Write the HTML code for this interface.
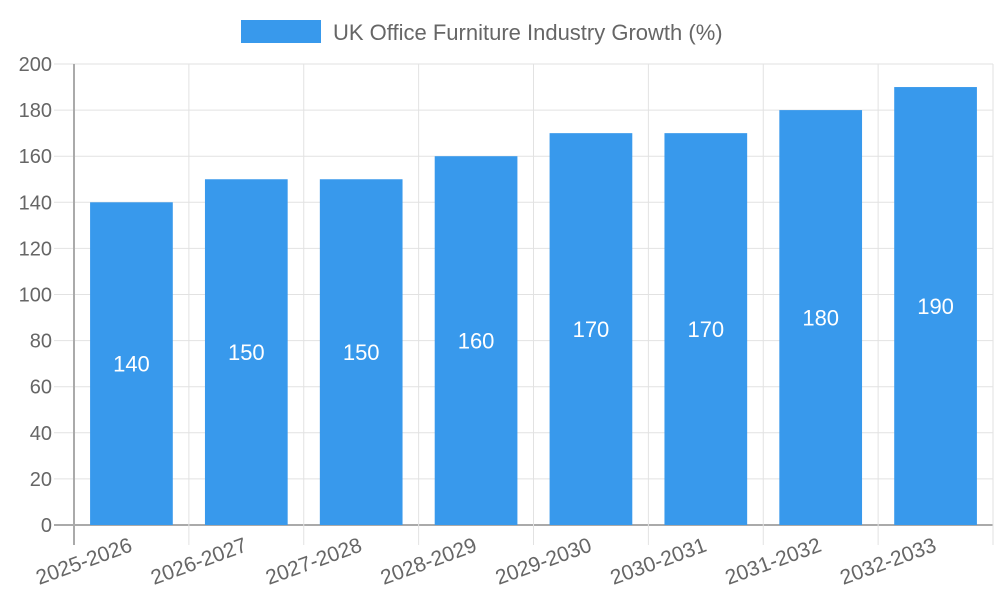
<!DOCTYPE html>
<html><head><meta charset="utf-8"><style>body{margin:0;background:#fff}svg{font-family:"Liberation Sans",sans-serif}</style></head>
<body>
<svg id="c" width="1000" height="600">
<g>
<rect x="241" y="20" width="80" height="23" fill="#3899ec"/>
<text x="333" y="40" font-size="22" fill="#666">UK Office Furniture Industry Growth (%)</text>
</g>
<g id="grid"></g><g id="bars"></g>
</svg>
<script>
const categories=["2025-2026","2026-2027","2027-2028","2028-2029","2029-2030","2030-2031","2031-2032","2032-2033"];
const values=[140,150,150,160,170,170,180,190];
const yTicks=[0,20,40,60,80,100,120,140,160,180,200];
const L=74,R=993,T=64,B=525,yMax=200;
const y=v=>B-(v/yMax)*(B-T);
const cw=(R-L)/categories.length;
const x=i=>L+cw*i;
const NS="http://www.w3.org/2000/svg";
function mk(tag,attrs,parent,text){const e=document.createElementNS(NS,tag);for(const k in attrs)e.setAttribute(k,attrs[k]);if(text!==undefined)e.textContent=text;parent.appendChild(e);return e;}
const g=document.getElementById('grid'),b=document.getElementById('bars');
yTicks.forEach(t=>{
 const l=mk('line',{x1:L-20,x2:R,y1:y(t),y2:y(t),stroke:t===0?'#aaa':'#e2e2e2','stroke-width':t===0?2:1},g);
 
 
 const tx=mk('text',{x:L-22,y:y(t)+7,'text-anchor':'end','font-size':20,fill:'#666'},g,String(t));
 
 
});
for(let i=0;i<=categories.length;i++){
 const l=mk('line',{x1:x(i),x2:x(i),y1:T,y2:B+20,stroke:i===0?'#aaa':'#e2e2e2','stroke-width':i===0?2:1},g);
 
 
}
categories.forEach((c,i)=>{
 const cx=x(i)+cw/2,w=cw*0.72;
 const r=mk('rect',{x:cx-w/2,y:y(values[i]),width:w,height:B-y(values[i]),fill:'#3899ec'},b);
 
 
 const v=mk('text',{x:cx,y:y(values[i]/2)+8,'text-anchor':'middle','font-size':22,fill:'#fff'},b,String(values[i]));
 
 
 const tl=mk('text',{x:cx,y:B+26,'text-anchor':'end','font-size':21,fill:'#666',transform:`rotate(-20 ${cx} ${B+20})`},b,c);
 
 
});
</script>
</body></html>
